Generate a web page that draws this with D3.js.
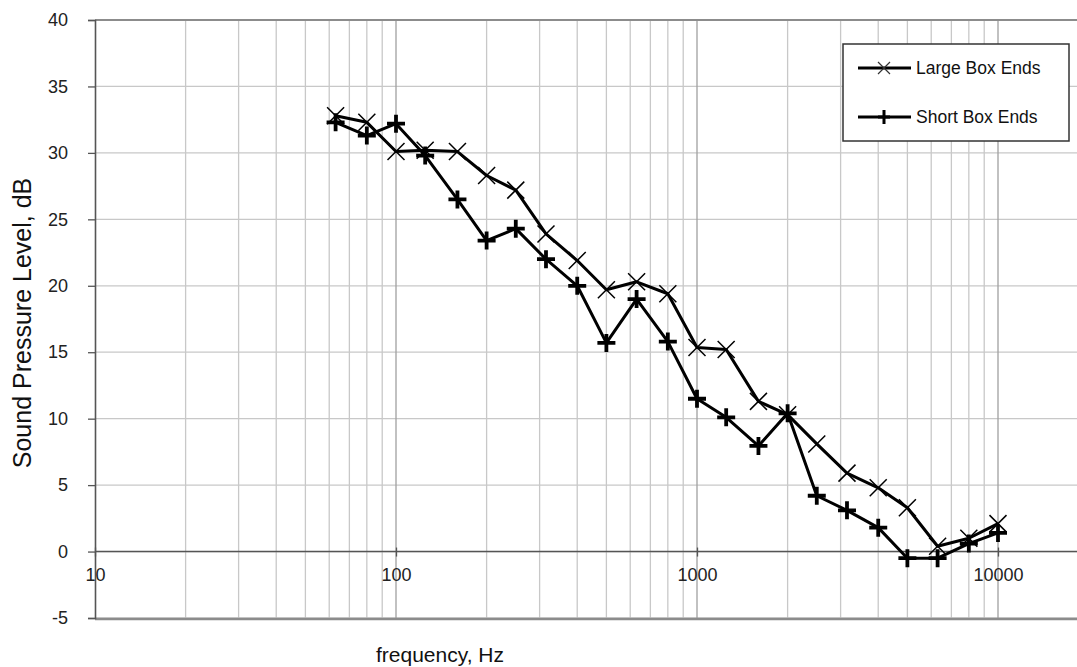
<!DOCTYPE html>
<html>
<head>
<meta charset="utf-8">
<script src="https://cdn.jsdelivr.net/npm/d3@7"></script>
<style>
  html, body { margin: 0; padding: 0; background: #fff; }
  svg { display: block; font-family: "Liberation Sans", Arial, sans-serif; }
</style>
</head>
<body>
<svg id="chart" width="1077" height="667"></svg>
<script>
// One-third-octave band centre frequencies, Hz
const frequencies = [63, 80, 100, 125, 160, 200, 250, 315, 400, 500, 630, 800,
  1000, 1250, 1600, 2000, 2500, 3150, 4000, 5000, 6300, 8000, 10000];

// Sound pressure level per band, dB
const largeBoxEnds = [32.8, 32.3, 30.1, 30.2, 30.1, 28.3, 27.2, 23.9, 21.9, 19.7, 20.3, 19.4,
  15.35, 15.2, 11.3, 10.3, 8.1, 5.9, 4.8, 3.3, 0.4, 1.0, 2.1];
const shortBoxEnds = [32.3, 31.3, 32.2, 29.8, 26.5, 23.4, 24.3, 22.0, 20.0, 15.7, 19.0, 15.8,
  11.5, 10.1, 7.95, 10.4, 4.2, 3.1, 1.8, -0.5, -0.5, 0.6, 1.4];

const seriesNames = ["Large Box Ends", "Short Box Ends"];
const yTicks = [-5, 0, 5, 10, 15, 20, 25, 30, 35, 40];
const xTicks = [10, 100, 1000, 10000];

(function draw() {
  const svg = d3.select("#chart");
  const pLeft = 95, pTop = 20, pBottom = 618, pRight = 1100;
  const font = "Liberation Sans, Arial, sans-serif";

  const x = d3.scaleLog().domain([10, 10000]).range([pLeft, 998]);
  const y = d3.scaleLinear().domain([-5, 40]).range([pBottom, pTop]);

  // minor decade grid lines
  const minor = [];
  [10, 100, 1000].forEach(d => { for (let k = 2; k <= 9; k++) minor.push(d * k); });

  const grid = svg.append("g");
  grid.selectAll("line.hy").data(yTicks).join("line")
    .attr("x1", pLeft).attr("x2", pRight)
    .attr("y1", d => y(d)).attr("y2", d => y(d))
    .attr("stroke", "#c8c8c8").attr("stroke-width", 1.3);
  grid.selectAll("line.vmin").data(minor).join("line")
    .attr("x1", d => x(d)).attr("x2", d => x(d))
    .attr("y1", pTop).attr("y2", pBottom)
    .attr("stroke", "#c8c8c8").attr("stroke-width", 1.3);
  grid.selectAll("line.vmaj").data(xTicks.slice(1)).join("line")
    .attr("x1", d => x(d)).attr("x2", d => x(d))
    .attr("y1", pTop).attr("y2", pBottom)
    .attr("stroke", "#a0a0a0").attr("stroke-width", 1.3);

  // plot frame (top and bottom)
  svg.append("line").attr("x1", pLeft).attr("x2", pRight).attr("y1", pTop).attr("y2", pTop)
    .attr("stroke", "#8c8c8c").attr("stroke-width", 2);
  svg.append("line").attr("x1", pLeft).attr("x2", pRight).attr("y1", pBottom + 1).attr("y2", pBottom + 1)
    .attr("stroke", "#8c8c8c").attr("stroke-width", 2.5);

  // y axis
  const yAxis = d3.axisLeft(y).tickValues(yTicks).tickFormat(d => String(d))
    .tickSize(7).tickPadding(20);
  const gy = svg.append("g").attr("transform", `translate(${pLeft},0)`).call(yAxis);
  gy.select(".domain").attr("stroke", "#555").attr("stroke-width", 1.6);
  gy.selectAll(".tick line").attr("stroke", "#555").attr("stroke-width", 1.3);
  gy.selectAll(".tick text").attr("font-size", 18).attr("fill", "#222")
    .attr("font-family", font);

  // x axis crossing at 0 dB
  const xAxis = d3.axisBottom(x).tickValues(xTicks).tickFormat(d3.format("d"))
    .tickSize(5).tickPadding(12);
  const gx = svg.append("g").attr("transform", `translate(0,${y(0)})`).call(xAxis);
  gx.select(".domain").remove();
  gx.append("line").attr("x1", pLeft).attr("x2", pRight).attr("y1", 0).attr("y2", 0)
    .attr("stroke", "#555").attr("stroke-width", 1.6);
  gx.selectAll(".tick line").attr("stroke", "#555").attr("stroke-width", 1.3)
    .attr("y1", -4);
  gx.selectAll(".tick text").attr("font-size", 18).attr("fill", "#222")
    .attr("font-family", font);

  // axis titles
  svg.append("text").attr("x", 440).attr("y", 662).attr("text-anchor", "middle")
    .attr("font-size", 21).attr("fill", "#111").text("frequency, Hz");
  svg.append("text").attr("transform", `translate(31,323) rotate(-90)`)
    .attr("text-anchor", "middle").attr("font-size", 25).attr("fill", "#111")
    .text("Sound Pressure Level, dB");

  // series
  const line = d3.line().x(d => x(d[0])).y(d => y(d[1]));
  const dataL = frequencies.map((f, i) => [f, largeBoxEnds[i]]);
  const dataS = frequencies.map((f, i) => [f, shortBoxEnds[i]]);

  const plot = svg.append("g");
  function crossMarker(g, cx, cy) {
    const r = 8.5;
    g.append("path").attr("d", `M${cx - r},${cy - r}L${cx + r},${cy + r}M${cx - r},${cy + r}L${cx + r},${cy - r}`)
      .attr("stroke", "#000").attr("stroke-width", 1.5).attr("fill", "none");
  }
  function plusMarker(g, cx, cy) {
    const r = 9;
    g.append("path").attr("d", `M${cx - r},${cy}L${cx + r},${cy}M${cx},${cy - r}L${cx},${cy + r}`)
      .attr("stroke", "#000").attr("stroke-width", 3.8).attr("fill", "none");
  }

  plot.append("path").datum(dataL).attr("d", line)
    .attr("fill", "none").attr("stroke", "#000").attr("stroke-width", 3).attr("stroke-linejoin", "round");
  dataL.forEach(d => crossMarker(plot, x(d[0]), y(d[1])));
  plot.append("path").datum(dataS).attr("d", line)
    .attr("fill", "none").attr("stroke", "#000").attr("stroke-width", 3).attr("stroke-linejoin", "round");
  dataS.forEach(d => plusMarker(plot, x(d[0]), y(d[1])));

  // legend
  const lg = svg.append("g");
  lg.append("rect").attr("x", 843).attr("y", 44).attr("width", 226).attr("height", 97)
    .attr("fill", "#fff").attr("stroke", "#333").attr("stroke-width", 1.5);
  [68, 117].forEach((ly, i) => {
    lg.append("line").attr("x1", 858).attr("x2", 911).attr("y1", ly).attr("y2", ly)
      .attr("stroke", "#000").attr("stroke-width", 3);
    if (i === 0) {
      const r = 6;
      lg.append("path").attr("d", `M${884 - r},${ly - r}L${884 + r},${ly + r}M${884 - r},${ly + r}L${884 + r},${ly - r}`)
        .attr("stroke", "#333").attr("stroke-width", 1.2).attr("fill", "none");
    } else {
      lg.append("path").attr("d", `M${884 - 6},${ly}L${884 + 6},${ly}M${884},${ly - 7}L${884},${ly + 7}`)
        .attr("stroke", "#000").attr("stroke-width", 3).attr("fill", "none");
    }
    lg.append("text").attr("x", 916).attr("y", ly + 6).attr("font-size", 17.5).attr("fill", "#111")
      .text(seriesNames[i]);
  });
})();
</script>
</body>
</html>
